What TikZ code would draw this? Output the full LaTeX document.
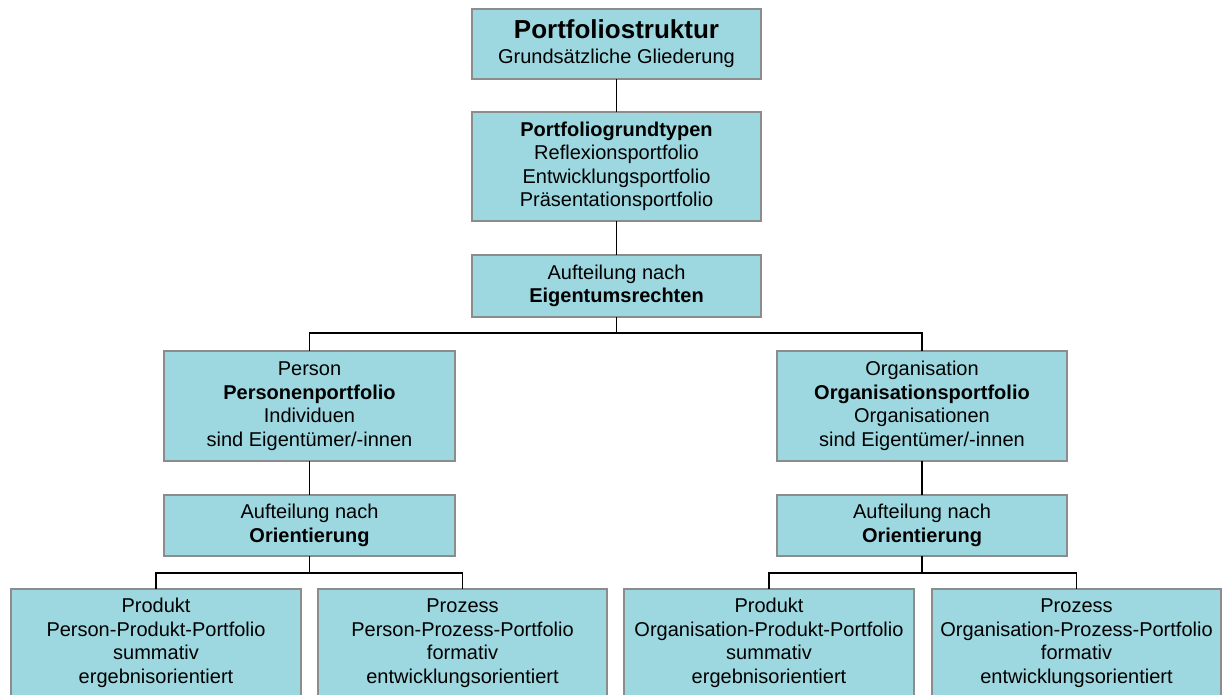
\documentclass[tikz,border=0pt]{standalone}
\usepackage{fontspec}
\setmainfont{Liberation Sans}
\definecolor{boxfill}{RGB}{157,216,224}
\definecolor{boxline}{RGB}{140,140,140}
\tikzset{
  x=0.75pt, y=-0.75pt,
  bx/.style 2 args={draw=boxline, line width=0.9pt, fill=boxfill, rectangle,
    minimum width=#1*0.75pt, minimum height=#2*0.75pt, inner sep=0pt, outer sep=0pt,
    align=center, font=\fontsize{15pt}{17.6pt}\selectfont},
  conn/.style={draw=black, line width=1pt}
}
\begin{document}
\begin{tikzpicture}
\useasboundingbox (0,0) rectangle (1222,695);
\clip (0,0) rectangle (1222,695);
\fill[white] (0,0) rectangle (1222,695);

\node[bx={289}{70}] (top) at (616.5,44)
  {{\fontsize{19.5pt}{21pt}\selectfont\textbf{Portfoliostruktur}}\\[1pt]Grundsätzliche Gliederung};
\node[bx={289}{109}] (gt) at (616.5,166.5)
  {\textbf{Portfoliogrundtypen}\\Reflexionsportfolio\\Entwicklungsportfolio\\Präsentationsportfolio};
\node[bx={289}{62}] (eig) at (616.5,286)
  {Aufteilung nach\\\textbf{Eigentumsrechten}};

\node[bx={291}{110}] (pers) at (309.5,406)
  {Person\\\textbf{Personenportfolio}\\Individuen\\sind Eigentümer/-innen};
\node[bx={291}{61}] (porient) at (309.5,525.5)
  {Aufteilung nach\\\textbf{Orientierung}};
\node[bx={290}{110}] (org) at (922,406)
  {Organisation\\\textbf{Organisationsportfolio}\\Organisationen\\sind Eigentümer/-innen};
\node[bx={290}{61}] (oorient) at (922,525.5)
  {Aufteilung nach\\\textbf{Orientierung}};

\node[bx={290}{108}] (b1) at (156,643)
  {Produkt\\Person-Produkt-Portfolio\\summativ\\ergebnisorientiert};
\node[bx={289}{108}] (b2) at (462.5,643)
  {Prozess\\Person-Prozess-Portfolio\\formativ\\entwicklungsorientiert};
\node[bx={290}{108}] (b3) at (769,643)
  {Produkt\\Organisation-Produkt-Portfolio\\summativ\\ergebnisorientiert};
\node[bx={289}{108}] (b4) at (1076.5,643)
  {Prozess\\Organisation-Prozess-Portfolio\\formativ\\entwicklungsorientiert};

\coordinate (busA) at (616.5,333);
\coordinate (busL) at (309.5,573);
\coordinate (busR) at (922,573);

\draw[conn] (top.south) -- (gt.north);
\draw[conn] (gt.south) -- (eig.north);
\draw[conn] (eig.south) -- (busA);
\draw[conn] (pers.north) |- (busA) -| (org.north);
\draw[conn] (pers.south) -- (porient.north);
\draw[conn] (org.south) -- (oorient.north);
\draw[conn] (porient.south) -- (busL);
\draw[conn] (b1.north) |- (busL) -| (b2.north);
\draw[conn] (oorient.south) -- (busR);
\draw[conn] (b3.north) |- (busR) -| (b4.north);
\end{tikzpicture}
\end{document}
